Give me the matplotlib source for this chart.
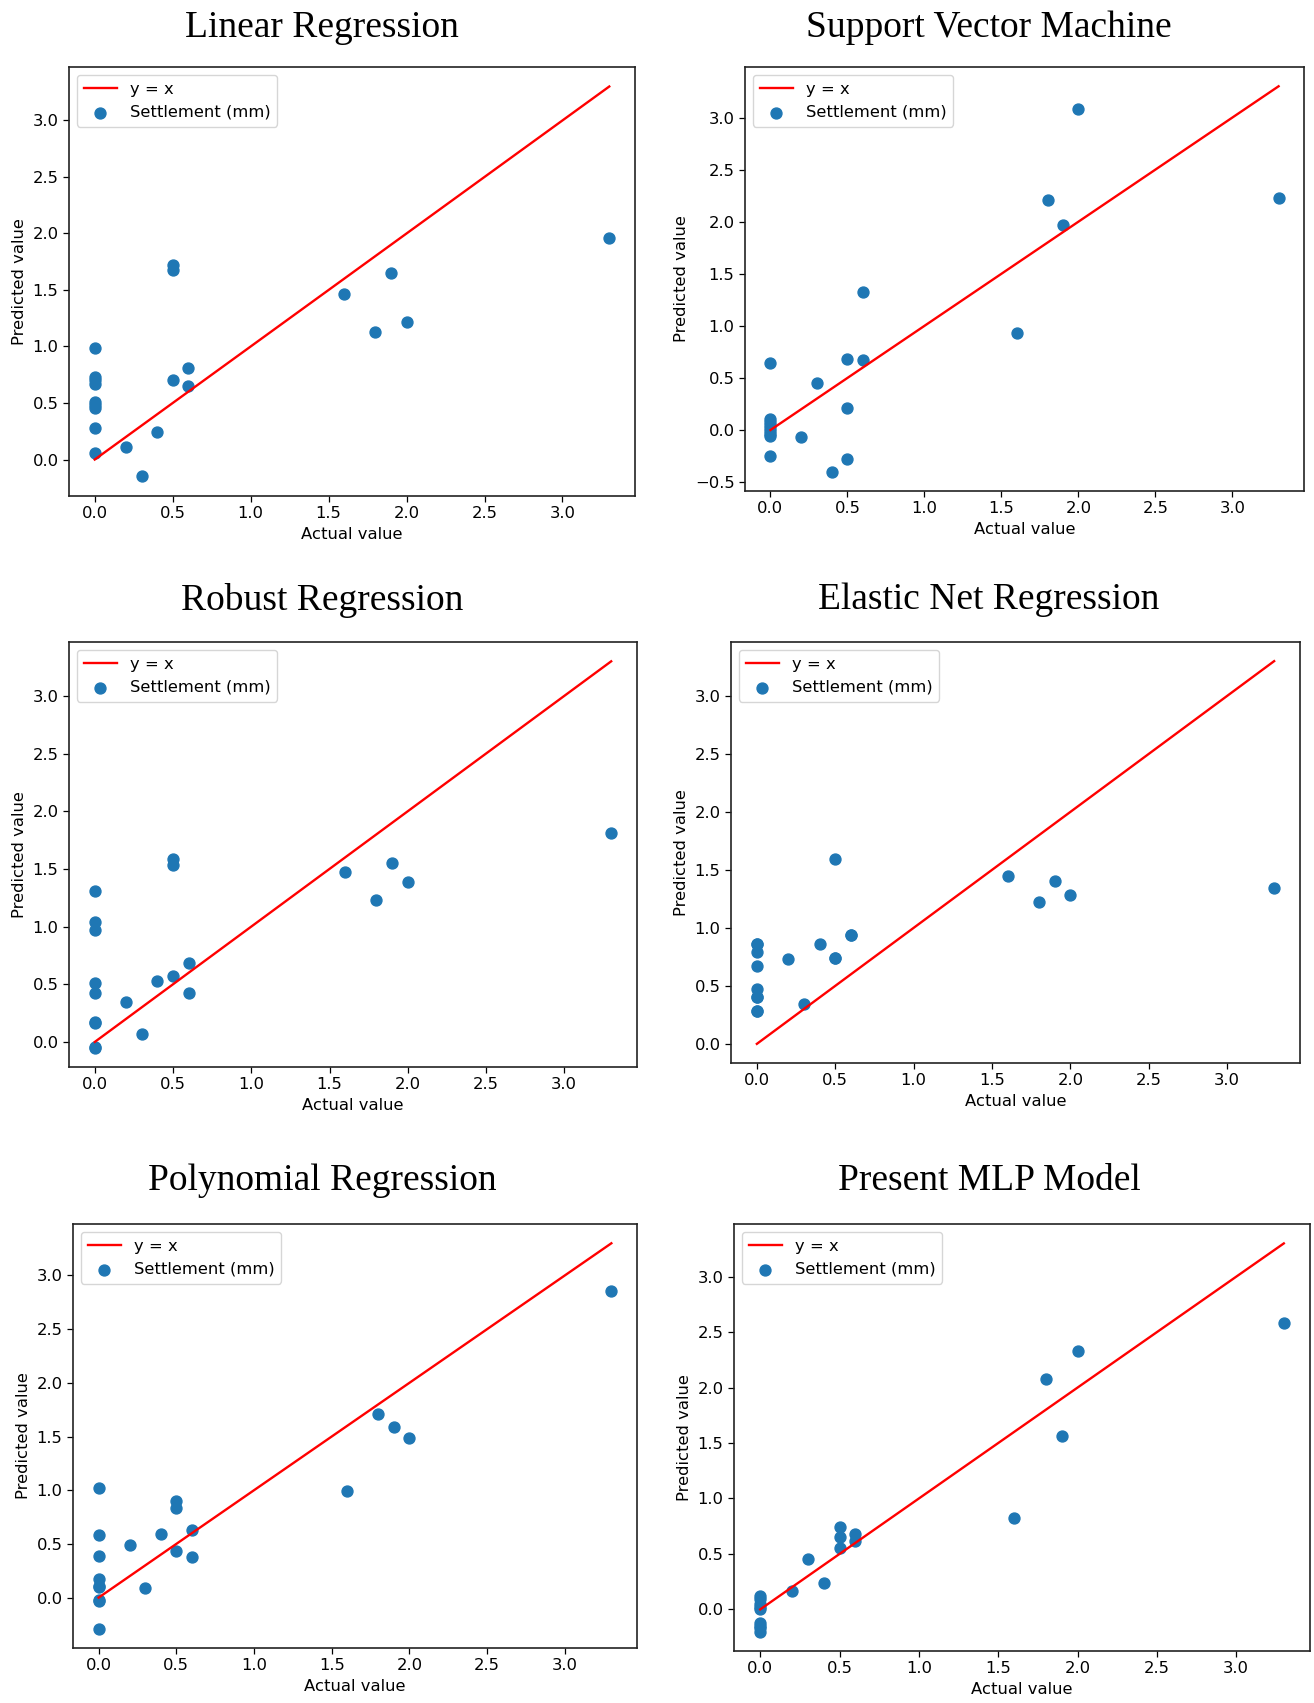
import numpy as np
import matplotlib
matplotlib.use("Agg")
import matplotlib.pyplot as plt

# actual settlement (mm) of the test set, same for every model
actual = [0, 0, 0, 0, 0, 0, 0, 0, 0, 0.2, 0.3, 0.4, 0.5, 0.5, 0.5, 0.6, 0.6, 1.6, 1.8, 1.9, 2.0, 3.3]

# predictions for each model, in the same order as actual
pred_linear = [0.99, 0.73, 0.70, 0.67, 0.51, 0.48, 0.46, 0.28, 0.06,
               0.11, -0.15, 0.24, 1.72, 1.68, 0.70, 0.81, 0.65, 1.46, 1.13, 1.65, 1.22, 1.96]
pred_svm = [0.64, 0.11, 0.08, 0.05, 0.02, -0.01, -0.04, -0.06, -0.25,
            -0.07, 0.45, -0.40, 0.68, 0.21, -0.28, 1.33, 0.67, 0.93, 2.21, 1.97, 3.08, 2.23]
pred_robust = [1.31, 1.04, 0.97, 0.51, 0.42, 0.17, 0.16, -0.04, -0.05,
               0.35, 0.07, 0.53, 1.59, 1.53, 0.57, 0.68, 0.42, 1.47, 1.23, 1.55, 1.39, 1.81]
pred_elastic = [0.86, 0.79, 0.67, 0.47, 0.40, 0.28, 0.28, 0.40, 0.86,
                0.73, 0.34, 0.86, 1.59, 0.74, 0.74, 0.94, 0.94, 1.45, 1.22, 1.40, 1.28, 1.34]
pred_poly = [1.02, 0.58, 0.39, 0.17, 0.11, 0.10, -0.02, -0.03, -0.29,
             0.49, 0.09, 0.59, 0.90, 0.83, 0.43, 0.63, 0.38, 0.99, 1.71, 1.59, 1.49, 2.86]
pred_mlp = [0.12, 0.09, 0.05, 0.02, 0.00, -0.12, -0.15, -0.17, -0.20,
            0.17, 0.45, 0.24, 0.74, 0.65, 0.55, 0.68, 0.62, 0.82, 2.08, 1.56, 2.33, 2.58]

titles = ["Linear Regression", "Support Vector Machine", "Robust Regression",
          "Elastic Net Regression", "Polynomial Regression", "Present MLP Model"]
preds = [pred_linear, pred_svm, pred_robust, pred_elastic, pred_poly, pred_mlp]

W, H = 1314, 1703
fig = plt.figure(figsize=(W / 100, H / 100), dpi=100)

# axes boxes in pixels: left, right, top, bottom
boxes = [(69, 635, 67, 496), (745, 1304, 67, 491),
         (69, 637, 642, 1067), (731, 1300, 642, 1063),
         (73, 637, 1224, 1648), (734, 1310, 1224, 1651)]
title_pos = [(322, 28), (989, 28), (322, 600), (989, 600), (322, 1181), (989, 1181)]

fs = 11.8
lo, hi = min(actual), max(actual)
for i in range(6):
    l, r, t, b = boxes[i]
    ax = fig.add_axes([l / W, 1 - b / H, (r - l) / W, (b - t) / H])
    ax.plot([lo, hi], [lo, hi], color="red", lw=1.7, label="y = x")
    ax.scatter(actual, preds[i], s=62, color="#1f77b4", label="Settlement (mm)")
    ax.set_xlabel("Actual value", fontsize=fs)
    ax.set_ylabel("Predicted value", fontsize=fs)
    ax.tick_params(labelsize=fs, length=4, width=0.9)
    ax.set_xticks(np.arange(0, 3.5, 0.5))
    for sp in ax.spines.values():
        sp.set_linewidth(1.2)
        sp.set_color("#222222")
    ax.legend(loc="upper left", fontsize=fs)
    tx, ty = title_pos[i]
    fig.text(tx / W, 1 - ty / H, titles[i], ha="center", va="center",
             fontsize=27, family="Liberation Serif")

fig.savefig("out.png", dpi=100)
